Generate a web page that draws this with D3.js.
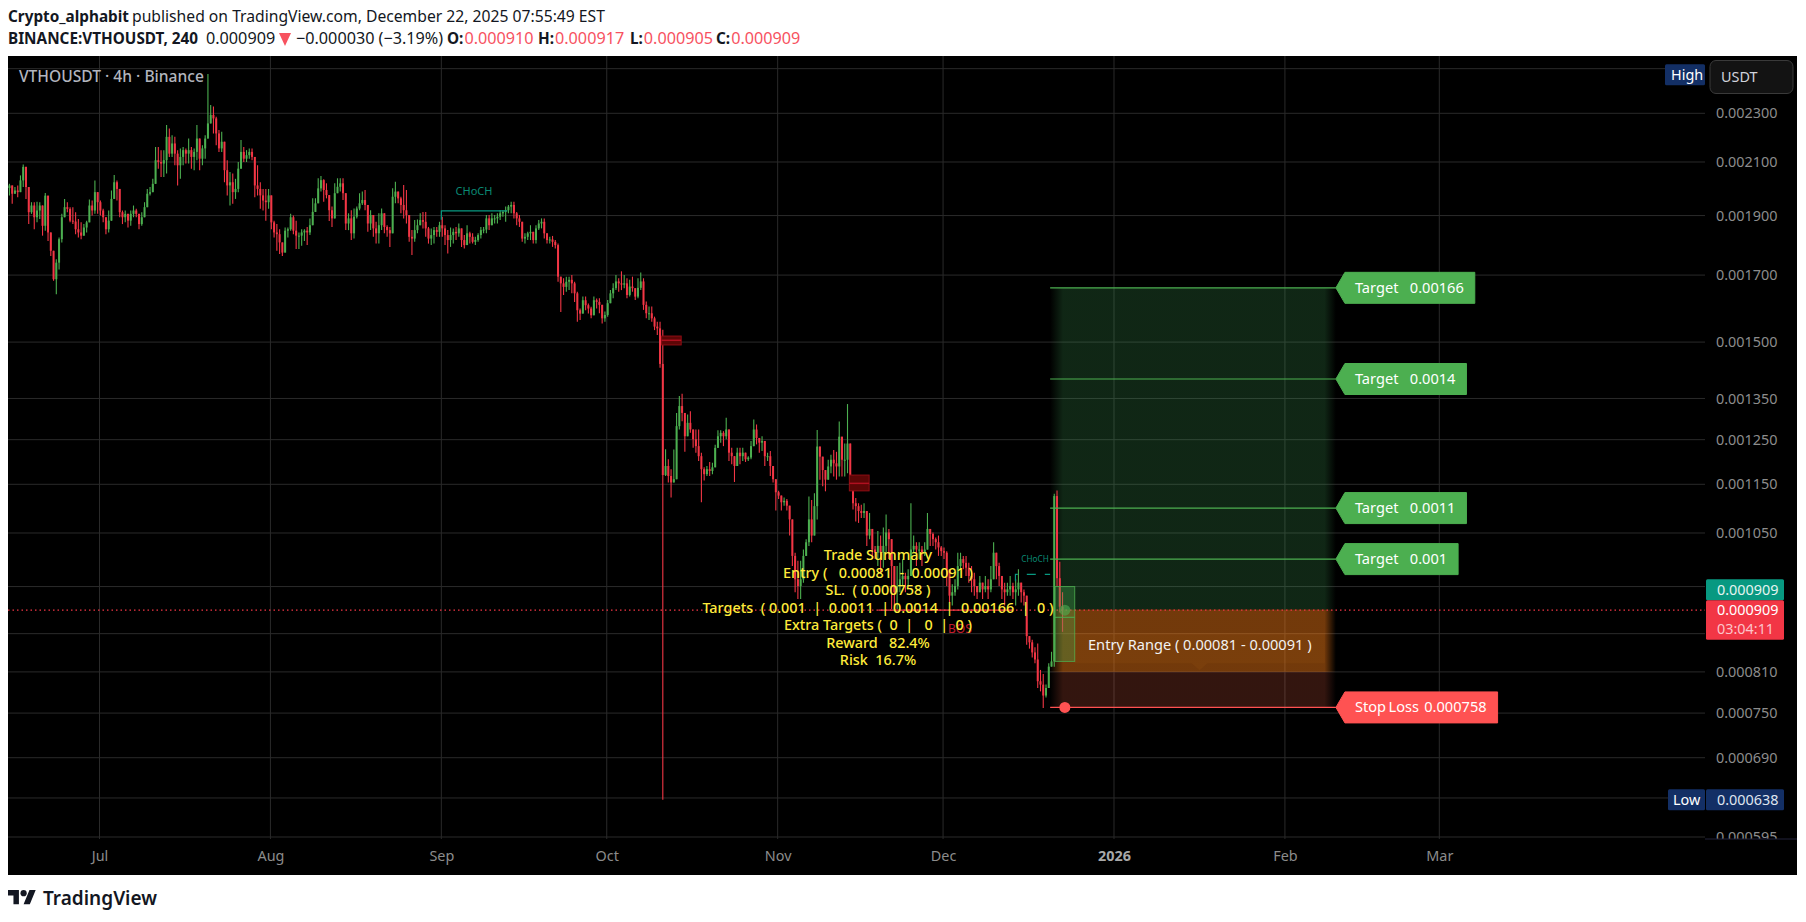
<!DOCTYPE html>
<html>
<head>
<meta charset="utf-8">
<script src="https://cdn.jsdelivr.net/npm/d3@7"></script>
<style>
html, body { margin: 0; background: #fff; }
svg { display: block; }
text { font-family: "Noto Sans", sans-serif; white-space: pre; }
</style>
</head>
<body>
<div id="chart"></div>
<script>
// prices are in millionths of USDT, one candle for every 12 hours
const firstCandle = "2025-06-14T16:00:00Z"
const firstOpen = 2000

const highs = [
  2016,2010,2004,2010,2048,2090,2035,1966,1948,1948,1950,1948,1918,1982,1966,1812,1779,1751,1824,1906,
  1960,1948,1930,1930,1912,1888,1876,1870,1882,1958,1954,2029,1985,1954,1924,1894,1918,1991,2050,2029,
  1966,1918,1918,1906,1918,1936,1924,1900,1912,1948,1997,2004,2035,2160,2160,2147,2147,2250,2236,2208,
  2201,2147,2154,2160,2154,2194,2160,2154,2250,2160,2167,2208,2475,2336,2329,2285,2229,2222,2174,2107,
  2061,2055,2035,2100,2188,2160,2147,2154,2154,2094,2087,2022,1997,1997,1997,1924,1882,1870,1852,1807,
  1858,1858,1906,1900,1882,1841,1852,1852,
  1860,1890,1962,1962,2037,2046,2033,2018,1950,1932,2018,2037,2037,2037,1981,1908,1919,1925,1932,1981,
  1987,1993,1908,1919,1902,1878,1908,1925,1908,1866,1860,1999,2024,1981,1968,2012,1993,1878,1849,1884,
  1886,1908,1913,1913,1860,1855,1860,1860,1878,1896,1866,1849,1858,1855,1860,1872,1855,1832,1866,1843,
  1838,1826,1838,1860,1860,1902,1902,1908,1902,1908,1919,1919,1932,1938,1950,1950,1913,1902,1860,1838,
  1843,1866,1843,1866,1884,1890,1890,1826,1826,1829,1815,1803,1695,1690,1695,1695,1700,1679,1648,1597,
  1633,1633,1612,1602,1633,1627,
  1628,1593,1588,1623,1653,1674,1700,1690,1712,1700,1690,1685,1695,1659,1690,1708,1690,1618,1603,1603,
  1573,1558,1558,
  1535,
  1228,1205,1183,1227,1314,1356,1362,1302,1310,1318,1262,1274,1274,1220,1187,1190,1199,1197,1238,1272,
  1272,1270,1302,1235,1231,1209,1231,1231,1231,1212,1212,1247,1298,1286,1251,1258,1227,1220,1224,1190,
  1154,1136,1122,1122,1119,
  1097,1038,1012,997,997,1018,1038,1124,1117,1131,1273,1230,1207,1170,1204,1215,1226,1222,1293,1249,
  1241,1336,1196,1138,1121,1110,1107,1110,1077,1090,1032,1025,1054,1045,1061,1087,1058,1038,981,987,
  993,1000,975,981,1110,1045,1032,1032,1025,1032,1090,1058,1051,1041,1045,1025,1022,1015,957,954,
  963,1012,1012,1006,1006,993,987,975,951,969,957,969,963,987,1032,1006,993,963,957,957,
  969,957,963,981,951,945,
  934,866,860,848,854,813,807,791,823,841,1130,1137,995,940
]

const lows = [
  1973,1942,1979,1966,1991,2004,1960,1870,1906,1852,1876,1888,1830,1847,1812,1762,1682,1640,1718,1807,
  1906,1912,1876,1870,1835,1824,1818,1830,1841,1900,1900,1906,1906,1900,1876,1835,1841,1948,1960,1954,
  1894,1870,1876,1858,1864,1894,1894,1852,1864,1894,1930,1973,1985,2022,2074,2042,2042,2055,2120,2120,
  2087,2010,2035,2087,2094,2094,2074,2068,2107,2068,2087,2113,2250,2264,2215,2167,2140,2140,2022,1973,
  1936,1942,1960,1985,2094,2100,2100,2113,2107,1966,1973,1924,1918,1882,1924,1852,1824,1779,1768,1762,
  1779,1824,1847,1835,1785,1785,1796,1812,
  1798,1832,1881,1913,1962,1987,1950,1962,1881,1860,1925,1981,1987,1956,1849,1849,1815,1820,1890,1919,
  1938,1919,1843,1849,1826,1803,1803,1849,1838,1826,1792,1913,1944,1944,1908,1890,1872,1809,1765,1809,
  1838,1866,1855,1826,1803,1798,1803,1826,1826,1826,1798,1770,1792,1803,1815,1826,1792,1787,1798,1803,
  1803,1798,1809,1820,1838,1838,1849,1872,1872,1872,1884,1896,1878,1908,1908,1890,1866,1860,1809,1803,
  1815,1815,1803,1803,1849,1855,1820,1803,1803,1792,1787,1679,1587,1638,1648,1653,1643,1617,1558,1563,
  1582,1592,1582,1568,1592,1597,
  1583,1553,1558,1573,1623,1628,1653,1648,1653,1659,1628,1633,1648,1623,1628,1653,1593,1568,1563,1558,
  1534,1520,1430,
  638,
  1168,1154,1122,1154,1243,1274,1294,1222,1258,1266,1231,1220,1201,1112,1158,1168,1168,1172,1197,1231,
  1243,1235,1251,1201,1194,1155,1197,1194,1201,1199,1201,1205,1243,1239,1220,1224,1190,1201,1168,1154,
  1095,1119,1095,1105,1095,
  1045,987,940,928,928,957,1012,1025,1032,1064,1077,1160,1146,1135,1160,1174,1167,1160,1167,1167,
  1167,1174,1146,1097,1073,1070,1080,1080,1025,1038,1000,1000,987,975,984,1012,1000,911,911,911,
  940,951,940,951,987,1012,987,1000,987,1006,1032,1025,1025,1018,1006,1006,1000,951,922,917,
  934,945,981,981,969,957,940,934,928,940,928,940,928,940,975,963,951,928,917,934,
  934,928,917,934,922,917,
  852,846,832,823,786,781,757,772,791,818,818,950,905,873
]

const closes = [
  2010,1979,1991,1985,2029,2081,2004,1912,1936,1894,1918,1936,1864,1972,1841,1779,1687,1740,1818,1894,
  1930,1924,1882,1879,1852,1841,1830,1858,1876,1936,1918,1985,1948,1918,1894,1852,1882,1960,2022,1997,
  1912,1894,1906,1882,1906,1918,1906,1870,1894,1930,1979,1985,2016,2107,2100,2094,2107,2201,2133,2174,
  2133,2087,2120,2147,2133,2147,2120,2140,2194,2113,2154,2194,2257,2293,2278,2215,2154,2181,2068,2010,
  2022,1985,1997,2074,2140,2113,2127,2140,2120,2010,1997,1973,1954,1948,1973,1876,1841,1835,1807,1773,
  1847,1852,1894,1847,1830,1830,1841,1847,
  1841,1866,1913,1944,1999,2030,1993,1974,1919,1890,1981,2005,2018,1981,1872,1890,1838,1896,1925,1944,
  1956,1938,1872,1902,1855,1838,1866,1908,1860,1849,1838,1968,1987,1962,1938,1919,1902,1826,1820,1849,
  1866,1884,1878,1855,1820,1832,1849,1843,1866,1855,1832,1815,1832,1843,1838,1855,1815,1798,1838,1826,
  1809,1815,1832,1849,1851,1890,1866,1890,1890,1896,1908,1913,1919,1932,1938,1908,1890,1878,1820,1826,
  1838,1843,1815,1855,1872,1878,1838,1815,1817,1809,1798,1695,1674,1663,1679,1685,1674,1643,1592,1582,
  1622,1607,1597,1577,1622,1617,
  1608,1568,1578,1613,1643,1659,1680,1674,1670,1674,1638,1664,1659,1633,1660,1680,1608,1583,1583,1568,
  1544,1539,1440,
  1170,
  1190,1168,1154,1161,1282,1331,1314,1258,1290,1274,1251,1235,1212,1183,1172,1183,1179,1187,1231,1258,
  1266,1258,1274,1220,1212,1190,1220,1212,1220,1205,1209,1235,1274,1254,1243,1247,1212,1212,1190,1161,
  1133,1126,1112,1115,1105,
  1077,1006,963,951,963,1006,1032,1077,1045,1104,1234,1211,1181,1160,1189,1204,1196,1189,1257,1204,
  1204,1241,1170,1110,1104,1094,1090,1094,1045,1058,1018,1012,1025,1012,1025,1051,1038,987,940,951,
  963,969,963,969,1018,1025,1018,1018,1012,1018,1058,1048,1038,1032,1022,1015,1012,981,934,940,
  951,987,1000,993,984,969,963,951,940,957,945,951,945,963,1012,987,969,945,940,945,
  951,940,945,957,940,934,
  866,856,840,829,796,791,775,786,818,826,1125,965,915,909
]

const gridPrices = [2500, 2300, 2100, 1900, 1700, 1500, 1350, 1250, 1150, 1050, 950, 870, 810, 750, 690, 640, 595]
const labelPrices = [2300, 2100, 1900, 1700, 1500, 1350, 1250, 1150, 1050, 810, 750, 690, 595]
const monthTicks = ["2025-07-01", "2025-08-01", "2025-09-01", "2025-10-01", "2025-11-01", "2025-12-01", "2026-01-01", "2026-02-01", "2026-03-01"]
const monthNames = ["Jul", "Aug", "Sep", "Oct", "Nov", "Dec", "2026", "Feb", "Mar"]

const lastPrice = 909
const lowPrice = 638
const entryRange = [810, 910]
const stopLoss = 758
const targets = [1000, 1100, 1400, 1660]
const targetNames = ["Target   0.001", "Target   0.0011", "Target   0.0014", "Target   0.00166"]
const tradeStart = "2025-12-20T10:00:00Z"
const tradeEnd = "2026-02-10T06:00:00Z"

const summaryLines = [
  "Trade Summary",
  "Entry (   0.00081  -  0.00091 )",
  "SL.  ( 0.000758 )",
  "Targets  ( 0.001  |  0.0011  | 0.0014  |  0.00166  |  0 )",
  "Extra Targets (  0  |   0  |  0 )",
  "Reward   82.4%",
  "Risk  16.7%"
]

const w = 1806
const h = 922
const frame = {left: 8, top: 56, right: 1797, bottom: 875}
const plotRight = 1705
const plotBottom = 839

const bull = "#4caf50"
const bear = "#f23645"
const gridColor = "#2a2a2a"

const svg = d3.select("#chart").append("svg").attr("width", w).attr("height", h)
const defs = svg.append("defs")

const xScale = d3.scaleUtc()
                 .domain([new Date("2025-07-01"), new Date("2026-03-01")])
                 .range([99.5, 1439.3])
const yScale = d3.scaleLog()
                 .domain([595, 2300])
                 .range([837, 113.3])

const candleTime = (i)=> new Date(+new Date(firstCandle) + i * 12 * 3600 * 1000)
const candles = closes.map((c, i)=> ({
    t: candleTime(i),
    open: i == 0 ? firstOpen : closes[i-1],
    high: highs[i],
    low: lows[i],
    close: c
}))

// clip so nothing spills over the axes
defs.append("clipPath").attr("id", "plotClip").append("rect")
    .attr("x", frame.left).attr("y", frame.top).attr("width", plotRight - frame.left).attr("height", plotBottom - frame.top)
defs.append("clipPath").attr("id", "axisClip").append("rect")
    .attr("x", plotRight).attr("y", frame.top).attr("width", frame.right - plotRight).attr("height", plotBottom - frame.top)

const fade = (id, color, op)=>{
    const g = defs.append("linearGradient").attr("id", id)
    g.selectAll("stop").data([[0, 0], [0.045, op], [0.96, op], [1, 0]]).enter().append("stop")
     .attr("offset", (d)=> d[0]).attr("stop-color", color).attr("stop-opacity", (d)=> d[1])
}
fade("greenFade", "#3f9a55", 0.25)
fade("orangeFade", "#ff8018", 0.45)
fade("redFade", "#ff6a4a", 0.2)

// header
const header = svg.append("g").attr("class", "header")
const headText = (x, y, str, weight, color, size)=>{
    return header.append("text").attr("x", x).attr("y", y).text(str)
                 .attr("font-size", size).attr("font-weight", weight).attr("fill", color)
}
headText(8, 22, "Crypto_alphabit", 700, "#131722", 15.3)
headText(132, 22, "published on TradingView.com, December 22, 2025 07:55:49 EST", 400, "#131722", 15.7)
headText(8, 44, "BINANCE:VTHOUSDT, 240", 700, "#131722", 15.3)
headText(206, 44, "0.000909", 400, "#131722", 16.2)
header.append("path").attr("d", "M279,33H291L285,46Z").attr("fill", "#f7525f")
headText(296, 44, "\u22120.000030 (\u22123.19%)", 400, "#131722", 16.2)
const ohlcLetters = ["O:", "H:", "L:", "C:"]
const ohlcValues = ["0.000910", "0.000917", "0.000905", "0.000909"]
const ohlcX = [447, 538, 630, 716]
ohlcLetters.forEach((l, i)=>{
    const t = headText(ohlcX[i], 44, l, 700, "#131722", 15.3)
    headText(ohlcX[i] + t.node().getComputedTextLength() + 1, 44, ohlcValues[i], 400, "#f7525f", 16.2)
})

// chart frame
svg.append("rect").attr("x", frame.left).attr("y", frame.top)
   .attr("width", frame.right - frame.left).attr("height", frame.bottom - frame.top).attr("fill", "#000")

// grid
const grid = svg.append("g").attr("clip-path", "url(#plotClip)")
grid.selectAll(".h").data(gridPrices).enter().append("line").attr("class", "h")
    .attr("x1", frame.left).attr("x2", plotRight)
    .attr("y1", (d)=> yScale(d)).attr("y2", (d)=> yScale(d))
    .attr("stroke", gridColor)
grid.selectAll(".v").data(monthTicks).enter().append("line").attr("class", "v")
    .attr("x1", (d)=> xScale(new Date(d))).attr("x2", (d)=> xScale(new Date(d)))
    .attr("y1", frame.top).attr("y2", plotBottom)
    .attr("stroke", gridColor)

// trade zones
const zoneX = xScale(new Date(tradeStart))
const zoneW = xScale(new Date(tradeEnd)) - zoneX
const zones = [
    {top: d3.max(targets), bottom: entryRange[1], fill: "url(#greenFade)"},
    {top: entryRange[1], bottom: entryRange[0], fill: "url(#orangeFade)"},
    {top: entryRange[0], bottom: stopLoss, fill: "url(#redFade)"}
]
svg.append("g").selectAll("rect").data(zones).enter().append("rect")
   .attr("x", zoneX).attr("width", zoneW)
   .attr("y", (d)=> yScale(d.top))
   .attr("height", (d)=> yScale(d.bottom) - yScale(d.top))
   .attr("fill", (d)=> d.fill)

// candles
const candleG = svg.append("g").attr("clip-path", "url(#plotClip)")
candleG.selectAll(".wick").data(candles).enter().append("line").attr("class", "wick")
   .attr("x1", (d)=> xScale(d.t)).attr("x2", (d)=> xScale(d.t))
   .attr("y1", (d)=> yScale(Math.max(d.high, d.open, d.close)))
   .attr("y2", (d)=> yScale(Math.min(d.low, d.open, d.close)))
   .attr("stroke", (d)=> d.close >= d.open ? bull : bear)
   .attr("stroke-width", 1.1)
candleG.selectAll(".body").data(candles).enter().append("rect").attr("class", "body")
   .attr("x", (d)=> xScale(d.t) - 1)
   .attr("width", 2)
   .attr("y", (d)=> yScale(Math.max(d.open, d.close)))
   .attr("height", (d)=> Math.max(1, Math.abs(yScale(d.open) - yScale(d.close))))
   .attr("fill", (d)=> d.close >= d.open ? bull : bear)

// order blocks
const blockTimes = [["2025-10-10T23:00:00Z", "2025-10-14T12:00:00Z"], ["2025-11-14T00:00:00Z", "2025-11-17T14:00:00Z"]]
const blockPrices = [[1517, 1505, 1492], [1170, 1152, 1136]]
blockTimes.forEach((b, i)=>{
    const p = blockPrices[i]
    const x = xScale(new Date(b[0]))
    const bw = xScale(new Date(b[1])) - x
    svg.append("rect").attr("x", x).attr("width", bw)
       .attr("y", yScale(p[0])).attr("height", yScale(p[2]) - yScale(p[0]))
       .attr("fill", "#5c0606").attr("stroke", "#8f0d14")
    svg.append("line").attr("x1", x).attr("x2", x + bw)
       .attr("y1", yScale(p[1])).attr("y2", yScale(p[1])).attr("stroke", "#b01020").attr("stroke-width", 1.5)
})

// structure marks
const teal = "#089981"
const choch = svg.append("g")
const choch1 = {from: "2025-09-01T00:00:00Z", to: "2025-09-13T00:00:00Z", price: 1917, foot: 1885}
choch.append("path").attr("fill", "none").attr("stroke", teal).attr("stroke-width", 1.2)
     .attr("d", d3.line()([
        [xScale(new Date(choch1.from)), yScale(choch1.foot)],
        [xScale(new Date(choch1.from)), yScale(choch1.price)],
        [xScale(new Date(choch1.to)), yScale(choch1.price)]]))
choch.append("text").attr("x", 474).attr("y", 195).attr("text-anchor", "middle")
     .attr("font-size", 11).attr("fill", "#0a8a74").text("CHoCH")
const choch2 = {from: "2025-12-14T03:00:00Z", to: "2025-12-20T10:00:00Z", price: 972, foot: 960}
choch.append("path").attr("fill", "none").attr("stroke", teal).attr("stroke-width", 1.2).attr("stroke-dasharray", "9,9")
     .attr("d", d3.line()([
        [xScale(new Date(choch2.from)), yScale(choch2.foot)],
        [xScale(new Date(choch2.from)), yScale(choch2.price)],
        [xScale(new Date(choch2.to)), yScale(choch2.price)]]))
choch.append("text").attr("x", 1035).attr("y", 562).attr("text-anchor", "middle")
     .attr("font-size", 8.2).attr("fill", "#0a8a74").text("CHoCH")

// last price dotted line
svg.append("line").attr("x1", frame.left).attr("x2", plotRight)
   .attr("y1", yScale(lastPrice)).attr("y2", yScale(lastPrice))
   .attr("stroke", bear).attr("stroke-width", 1.2).attr("stroke-dasharray", "1.5,3")

// BOS line
svg.append("line").attr("x1", xScale(new Date("2025-11-19T06:00:00Z"))).attr("x2", xScale(new Date("2025-12-13T12:00:00Z")))
   .attr("y1", yScale(lastPrice)).attr("y2", yScale(lastPrice)).attr("stroke", bear).attr("stroke-width", 1.3)
svg.append("text").attr("x", 948).attr("y", 633).attr("font-size", 12).attr("fill", "#c21c2c").text("BOS")

// entry box
const entryBox = {top: 950, mid: 897, bottom: 826, from: "2025-12-21T07:00:00Z", to: "2025-12-24T21:00:00Z"}
const boxX = xScale(new Date(entryBox.from))
const boxW = xScale(new Date(entryBox.to)) - boxX
svg.append("rect").attr("x", boxX).attr("width", boxW)
   .attr("y", yScale(entryBox.top)).attr("height", yScale(entryBox.bottom) - yScale(entryBox.top))
   .attr("fill", bull).attr("fill-opacity", 0.32).attr("stroke", bull).attr("stroke-opacity", 0.8)
svg.append("line").attr("x1", boxX).attr("x2", boxX + boxW)
   .attr("y1", yScale(entryBox.mid)).attr("y2", yScale(entryBox.mid)).attr("stroke", bull)

// target and stop lines
const lineEnd = zoneX + zoneW
svg.append("g").selectAll("line").data(targets).enter().append("line")
   .attr("x1", zoneX).attr("x2", lineEnd)
   .attr("y1", (d)=> yScale(d)).attr("y2", (d)=> yScale(d))
   .attr("stroke", bull).attr("stroke-width", 1.1)
svg.append("line").attr("x1", zoneX).attr("x2", lineEnd)
   .attr("y1", yScale(stopLoss)).attr("y2", yScale(stopLoss)).attr("stroke", "#ff5252").attr("stroke-width", 1.1)
const dotTime = new Date("2025-12-23T02:00:00Z")
svg.append("circle").attr("cx", xScale(dotTime)).attr("cy", yScale(lastPrice)).attr("r", 5.5)
   .attr("fill", bull).attr("fill-opacity", 0.6)
svg.append("circle").attr("cx", xScale(dotTime)).attr("cy", yScale(stopLoss)).attr("r", 5.5).attr("fill", "#ff5252")

// callouts
const callout = (price, str, color, spacing)=>{
    const y = yScale(price)
    const g = svg.append("g")
    const path = g.append("path").attr("fill", color)
    const t = g.append("text").attr("x", lineEnd + 19).attr("y", y + 5).attr("font-size", 14.6)
               .attr("word-spacing", spacing).attr("fill", "#fff").text(str)
    const tw = t.node().getComputedTextLength()
    const x0 = lineEnd + 9
    const x1 = lineEnd + 19 + tw + 11
    path.attr("d", `M${lineEnd},${y}L${x0},${y-15.5}H${x1}V${y+15.5}H${x0}Z`)
        .attr("stroke", color).attr("stroke-linejoin", "round")
}
targets.forEach((p, i)=> callout(p, targetNames[i], bull, 0))
callout(stopLoss, "Stop Loss  0.000758", "#ff5252", -1.2)

// entry range label
const entryY = yScale(845)
svg.append("path").attr("fill", "#ff9a30").attr("fill-opacity", 0.05)
   .attr("d", `M${zoneX+24},${entryY-16}h${zoneW-35}v30h-${(zoneW-35)/2-8}l-8,7l-8,-7h-${(zoneW-35)/2-8}z`)
svg.append("text").attr("x", 1088).attr("y", entryY + 1).attr("font-size", 14.6).attr("fill", "#f2f2f2")
   .text("Entry Range ( 0.00081 - 0.00091 )")

// trade summary
svg.append("g").selectAll("text").data(summaryLines).enter().append("text")
   .attr("x", 878).attr("y", (d, i)=> 560 + i * 17.5)
   .attr("text-anchor", "middle").attr("font-size", 14.4).attr("font-weight", 500)
   .attr("fill", "#ffeb3b").text((d)=> d)

// chart legend
svg.append("text").attr("x", 19).attr("y", 82).attr("font-size", 15.6).attr("font-weight", 500)
   .attr("fill", "#b2b5be").text("VTHOUSDT \u00b7 4h \u00b7 Binance")

// axes
const axisFont = (g)=>{
    g.select(".domain").remove()
    g.selectAll("line").remove()
    g.selectAll("text").attr("fill", "#8c8c8c").attr("font-size", 14.4).attr("font-family", '"Noto Sans", sans-serif')
}
const yAxis = d3.axisRight(yScale).tickValues(labelPrices).tickFormat((d)=> (d / 1e6).toFixed(6)).tickSize(0).tickPadding(0)
svg.append("g").attr("clip-path", "url(#axisClip)").append("g")
   .attr("transform", "translate(1716,0)").call(yAxis).call(axisFont)
const xAxis = d3.axisBottom(xScale).tickValues(monthTicks.map((d)=> new Date(d)))
                .tickFormat((d, i)=> monthNames[i]).tickSize(0).tickPadding(12)
const xg = svg.append("g").attr("transform", `translate(0,${plotBottom})`).call(xAxis).call(axisFont)
xg.selectAll("text").filter((d, i)=> monthNames[i] == "2026").attr("font-weight", 700).attr("fill", "#a8a8a8")
svg.append("line").attr("x1", plotRight).attr("x2", frame.right).attr("y1", plotBottom).attr("y2", plotBottom).attr("stroke", "#22223a")

// price badges
const badge = (x, y, bw, bh, fill)=> svg.append("rect").attr("x", x).attr("y", y).attr("width", bw).attr("height", bh).attr("rx", 1.5).attr("fill", fill)
const badgeText = (x, y, str, color, weight)=> svg.append("text").attr("x", x).attr("y", y).attr("font-size", 14.4).attr("font-weight", weight || 400).attr("fill", color).text(str)
const lastY = yScale(lastPrice)
const axisVal = (d)=> (d / 1e6).toFixed(6)
badge(1706, lastY - 31, 78, 21, "#089981")
badgeText(1717, lastY - 15, axisVal(lastPrice), "#e4f4f0")
badge(1706, lastY - 10, 78, 39.5, bear)
badgeText(1717, lastY + 5, axisVal(lastPrice), "#fff")
badgeText(1717, lastY + 24, "03:04:11", "#fcc5ca")
const lowY = yScale(lowPrice)
badge(1668, lowY - 10.5, 37, 21, "#132f65")
badgeText(1673, lowY + 5, "Low", "#fff")
badge(1706, lowY - 10.5, 78, 21, "#132f65")
badgeText(1717, lowY + 5, axisVal(lowPrice), "#dfe4ee")
const highBadge = yScale(2500)
badge(1665, highBadge - 4.5, 40, 21, "#132f65")
badgeText(1671, highBadge + 11, "High", "#fff")

// currency box
svg.append("rect").attr("x", 1710).attr("y", 60.5).attr("width", 83).attr("height", 33).attr("rx", 6)
   .attr("fill", "#131313").attr("stroke", "#3a3a3a")
svg.append("text").attr("x", 1721).attr("y", 82).attr("font-size", 14.4).attr("fill", "#d1d4dc").text("USDT")

// logo
const logo = svg.append("g").attr("transform", "translate(8,887) scale(0.78)").attr("fill", "#131722")
logo.append("path").attr("d", "M14 22H7V11H0V4h14v18zM28 22h-8l7.5-18h8L28 22z")
logo.append("circle").attr("cx", 20).attr("cy", 8).attr("r", 4)
svg.append("text").attr("x", 43).attr("y", 905).attr("font-size", 19).attr("font-weight", 600)
   .attr("fill", "#131722").text("TradingView")
</script>
</body>
</html>
